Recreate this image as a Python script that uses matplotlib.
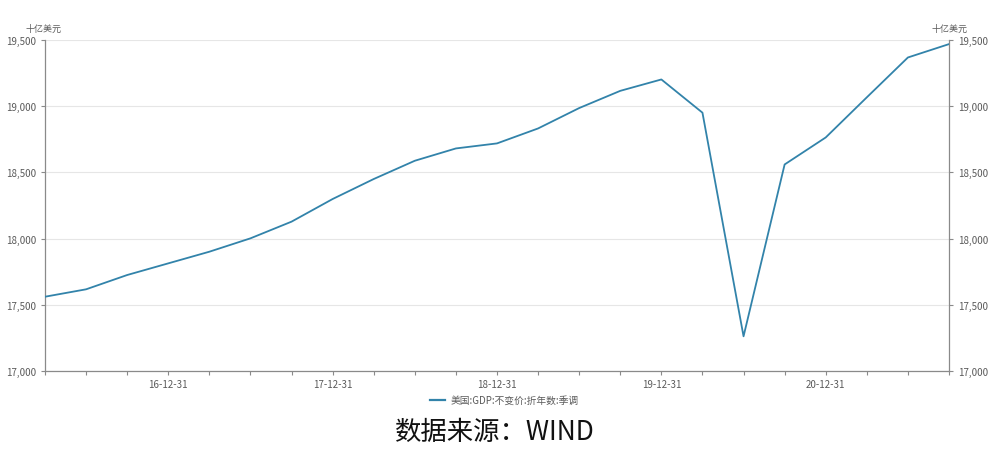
import matplotlib.pyplot as plt
from matplotlib.ticker import FuncFormatter, MultipleLocator

plt.rcParams["font.family"] = ["Noto Sans CJK SC", "DejaVu Sans"]

# quarterly real GDP, seasonally adjusted annual rate (billion USD)
quarters = [
    "16-03-31", "16-06-30", "16-09-30", "16-12-31",
    "17-03-31", "17-06-30", "17-09-30", "17-12-31",
    "18-03-31", "18-06-30", "18-09-30", "18-12-31",
    "19-03-31", "19-06-30", "19-09-30", "19-12-31",
    "20-03-31", "20-06-30", "20-09-30", "20-12-31",
    "21-03-31", "21-06-30", "21-09-30",
]
gdp = [
    17561, 17617, 17725, 17813,
    17901, 18002, 18128, 18299,
    18450, 18588, 18681, 18719,
    18832, 18986, 19116, 19202,
    18951, 17262, 18560, 18764,
    19067, 19368, 19469,
]
label_quarters = ["16-12-31", "17-12-31", "18-12-31", "19-12-31", "20-12-31"]
series_name = "美国:GDP:不变价:折年数:季调"
unit = "十亿美元"
source = "数据来源：WIND"

line_color = "#3283aa"
axis_color = "#8a8a8a"
text_color = "#5a5a5a"

fig = plt.figure(figsize=(10.08, 4.56), dpi=100)
ax = fig.add_axes([45 / 1008, 84 / 456, 904 / 1008, 331 / 456])

x = list(range(len(quarters)))
ax.plot(x, gdp, color=line_color, linewidth=1.3, zorder=3)

ax.set_xlim(0, len(quarters) - 1)
ax.set_ylim(17000, 19500)
ax.yaxis.set_major_locator(MultipleLocator(500))
fmt = FuncFormatter(lambda v, _: f"{int(v):,}")
ax.yaxis.set_major_formatter(fmt)

major_pos = [quarters.index(q) for q in label_quarters]
ax.set_xticks(major_pos, label_quarters)
ax.set_xticks(x, minor=True)

ax.grid(axis="y", color="#e6e6e6", linewidth=0.8, zorder=0)
ax.spines["top"].set_visible(False)
for side in ("left", "right", "bottom"):
    ax.spines[side].set_color(axis_color)
    ax.spines[side].set_linewidth(0.9)

ax.tick_params(axis="both", which="both", colors=axis_color, labelcolor=text_color,
               labelsize=7, length=3, width=0.8)
ax.tick_params(axis="x", which="major", pad=3)

ax2 = ax.twinx()
ax2.set_ylim(ax.get_ylim())
ax2.yaxis.set_major_locator(MultipleLocator(500))
ax2.yaxis.set_major_formatter(fmt)
ax2.tick_params(axis="y", colors=axis_color, labelcolor=text_color,
                labelsize=7, length=3, width=0.8)
for s in ax2.spines.values():
    s.set_visible(False)

fig.text(44 / 1008, 1 - 29 / 456, unit, ha="center", va="center",
         fontsize=6.5, color=text_color)
fig.text(950 / 1008, 1 - 29 / 456, unit, ha="center", va="center",
         fontsize=6.5, color=text_color)

handle, = ax.plot([], [], color=line_color, linewidth=1.6)
fig.legend([handle], [series_name], loc="center", bbox_to_anchor=(0.5, 1 - 401 / 456),
           frameon=False, fontsize=7, handlelength=1.6, handletextpad=0.5,
           labelcolor=text_color)

fig.text(495 / 1008, 1 - 432 / 456, source, ha="center", va="center",
         fontsize=19, color="#111111")

fig.savefig("out.png", dpi=100)
